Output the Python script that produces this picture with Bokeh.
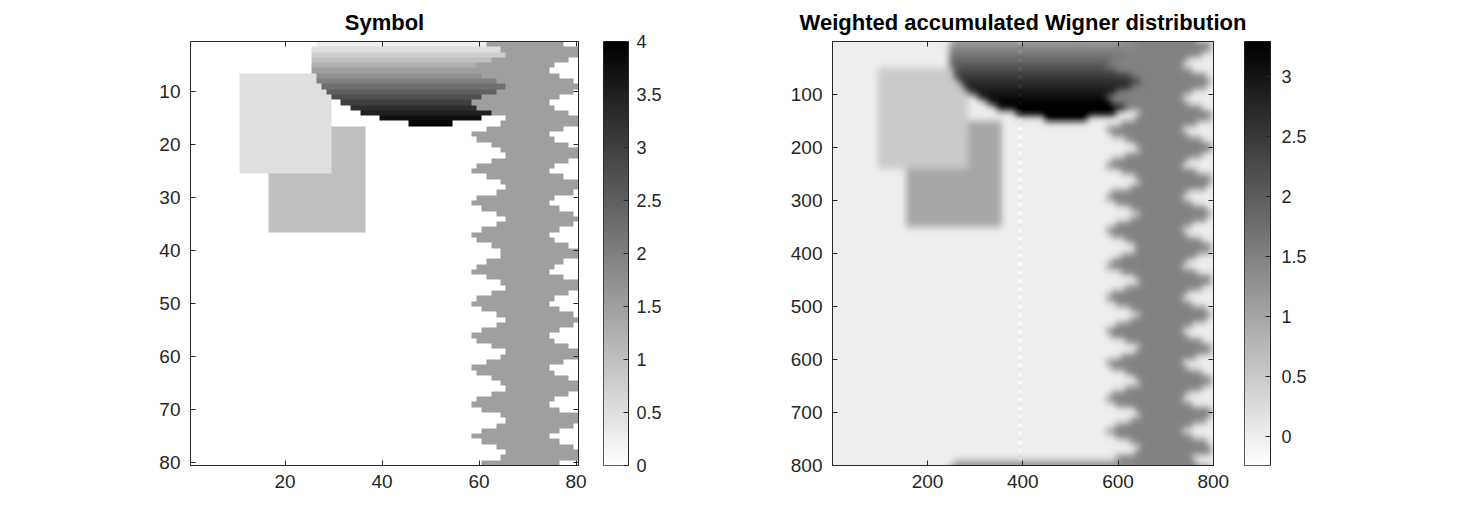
import numpy as np
from bokeh.plotting import figure
from bokeh.layouts import row
from bokeh.models import LinearColorMapper, FixedTicker, LinearAxis, Range1d
from bokeh.embed import file_html
from bokeh.resources import INLINE

FONT = "Liberation Sans"
INK = "#262626"

# ---- symbol: 80 x 80 grid, row 1 at the top ----
n_sym = 80
rect_rows = [(17, 36), (7, 25)]      # later rectangles lie on top
rect_cols = [(17, 36), (11, 29)]
rect_values = [1.0, 0.5]

dome_left = [27, 26, 26, 26, 26, 26, 27, 27, 28, 29, 30, 32, 34, 36, 40, 46]
dome_center = 50
dome_values = [0.25, 0.5, 0.75, 1.0, 1.25, 1.5, 1.75, 2.0,
               2.25, 2.5, 2.75, 3.0, 3.25, 3.5, 3.75, 4.0]

strip_left = [62, 65, 66, 63, 60, 59, 61, 64, 66, 64,
              61, 59, 60, 63, 66, 65, 62, 59, 60, 63,
              65, 66, 63, 60, 59, 62, 65, 66, 64, 60,
              59, 61, 64, 66, 64, 61, 59, 60, 63, 65,
              65, 62, 60, 59, 62, 65, 66, 63, 60, 59,
              61, 64, 66, 64, 61, 59, 60, 63, 66, 65,
              62, 59, 60, 63, 65, 66, 63, 60, 59, 61,
              65, 66, 64, 61, 59, 61, 64, 66, 65, 61]
strip_width = 16
strip_value = 1.5

# ---- weighted accumulated Wigner distribution: 800 x 800 ----
upsample = 10
wig_dome_values = [1.1, 1.25, 1.45, 1.65, 1.85, 2.05, 2.25, 2.45,
                   2.65, 2.8, 2.95, 3.1, 3.25, 3.4, 3.5, 3.6]
wig_shift = (-10, 5)     # rows rolled up, columns moved left
wig_sigma = 7.0
seam_cols = (390, 397)
seam_pattern = [-0.16, 0.08]
seam_run = 8
wig_low, wig_high = -0.24, 3.29

sym_xticks = [20, 40, 60, 80]
sym_yticks = [10, 20, 30, 40, 50, 60, 70, 80]
sym_cticks = [0, 0.5, 1, 1.5, 2, 2.5, 3, 3.5, 4]
wig_xticks = [200, 400, 600, 800]
wig_yticks = [100, 200, 300, 400, 500, 600, 700, 800]
wig_cticks = [0, 0.5, 1, 1.5, 2, 2.5, 3]


def build_symbol(dome_vals):
    g = np.zeros((n_sym, n_sym))
    for (r0, r1), (c0, c1), v in zip(rect_rows, rect_cols, rect_values):
        g[r0 - 1:r1, c0 - 1:c1] = v
    for i, (left, v) in enumerate(zip(dome_left, dome_vals)):
        g[i, left - 1:2 * dome_center - left] = v
    for i, left in enumerate(strip_left):
        g[i, left - 1:min(left - 1 + strip_width, n_sym)] = strip_value
    return g


symbol = build_symbol(dome_values)

fine = np.kron(build_symbol(wig_dome_values), np.ones((upsample, upsample)))
n_wig = fine.shape[0]
fine = np.roll(fine, wig_shift[0], axis=0)
fine = np.concatenate([fine[:, wig_shift[1]:], np.zeros((n_wig, wig_shift[1]))], axis=1)
pad = 64
big = np.pad(fine, ((0, 0), (pad, pad)))
fy = np.fft.fftfreq(big.shape[0])[:, None]
fx = np.fft.fftfreq(big.shape[1])[None, :]
kernel = np.exp(-2 * np.pi ** 2 * wig_sigma ** 2 * (fx ** 2 + fy ** 2))
wigner = np.real(np.fft.ifft2(np.fft.fft2(big) * kernel))[:, pad:-pad]
for i in range(n_wig):
    wigner[i, seam_cols[0]:seam_cols[1]] += seam_pattern[(i // seam_run) % 2]

gray = [f"#{v:02x}{v:02x}{v:02x}" for v in np.linspace(255, 0, 256).astype(int)]


def style_axis(ax, size):
    ax.axis_line_color = INK
    ax.major_tick_line_color = INK
    ax.minor_tick_line_color = None
    ax.major_tick_in = 5
    ax.major_tick_out = 0
    ax.major_label_text_font = FONT
    ax.major_label_text_font_size = size
    ax.major_label_text_color = INK


def image_panel(data, n, mapper, title, xticks, yticks, left, right, repeat):
    p = figure(frame_width=388 if n == n_sym else 381, frame_height=424,
               x_range=Range1d(0.5, n + 0.5), y_range=Range1d(0.5, n + 0.5),
               output_backend="svg", toolbar_location=None,
               min_border_left=left, min_border_right=right,
               min_border_top=40, min_border_bottom=49)
    img = np.kron(np.flipud(data), np.ones((repeat, repeat)))
    p.image(image=[img], x=0.5, y=0.5, dw=n, dh=n, color_mapper=mapper)
    p.grid.visible = False
    p.outline_line_color = INK
    p.title.text = title
    p.title.align = "center"
    p.title.text_font = FONT
    p.title.text_font_size = "22px"
    p.title.text_font_style = "bold"
    p.title.text_color = "black"
    p.title.standoff = 14

    ypos = [n + 1 - t for t in yticks]
    p.xaxis.ticker = FixedTicker(ticks=xticks)
    p.yaxis.ticker = FixedTicker(ticks=ypos)
    p.yaxis.major_label_overrides = {y: str(t) for y, t in zip(ypos, yticks)}
    style_axis(p.xaxis[0], "19px")
    style_axis(p.yaxis[0], "19px")
    p.xaxis.major_label_standoff = 9
    p.yaxis.major_label_standoff = 10

    for side, ticks in (("above", xticks), ("right", ypos)):
        ax = LinearAxis(ticker=FixedTicker(ticks=ticks))
        style_axis(ax, "0px")
        ax.major_label_standoff = 0
        ax.major_label_overrides = {t: "" for t in ticks}
        p.add_layout(ax, side)
    return p


def colorbar_panel(mapper, low, high, ticks, width, right, standoff, overlap=0):
    c = figure(frame_width=width, frame_height=424,
               x_range=Range1d(0, 1), y_range=Range1d(low, high),
               x_axis_location=None, y_axis_location="right",
               output_backend="svg", toolbar_location=None,
               min_border_left=0, min_border_right=right,
               min_border_top=40, min_border_bottom=49,
               margin=(0, 0, 0, -overlap))
    ramp = np.linspace(low, high, 256).reshape(-1, 1)
    c.image(image=[ramp], x=0, y=low, dw=1, dh=high - low, color_mapper=mapper)
    c.grid.visible = False
    c.outline_line_color = INK
    c.border_fill_color = None
    c.yaxis.ticker = FixedTicker(ticks=ticks)
    c.yaxis.major_label_overrides = {t: f"{t:g}" for t in ticks}
    style_axis(c.yaxis[0], "18px")
    c.yaxis.major_label_standoff = standoff
    return c


sym_map = LinearColorMapper(palette=gray, low=0, high=4)
wig_map = LinearColorMapper(palette=gray, low=wig_low, high=wig_high)

p1 = image_panel(symbol, n_sym, sym_map, "Symbol", sym_xticks, sym_yticks, 190, 25, 6)
c1 = colorbar_panel(sym_map, 0, 4, sym_cticks, 25, 134, 8)
# the long title runs past the plot's right edge, so the colour bar overlaps it
p2 = image_panel(wigner, n_wig, wig_map, "Weighted accumulated Wigner distribution",
                 wig_xticks, wig_yticks, 70, 51, 1)
c2 = colorbar_panel(wig_map, wig_low, wig_high, wig_cticks, 26, 60, 11, overlap=20)

p = row(p1, c1, p2, c2)
open("out.html", "w").write(file_html(p, INLINE))
